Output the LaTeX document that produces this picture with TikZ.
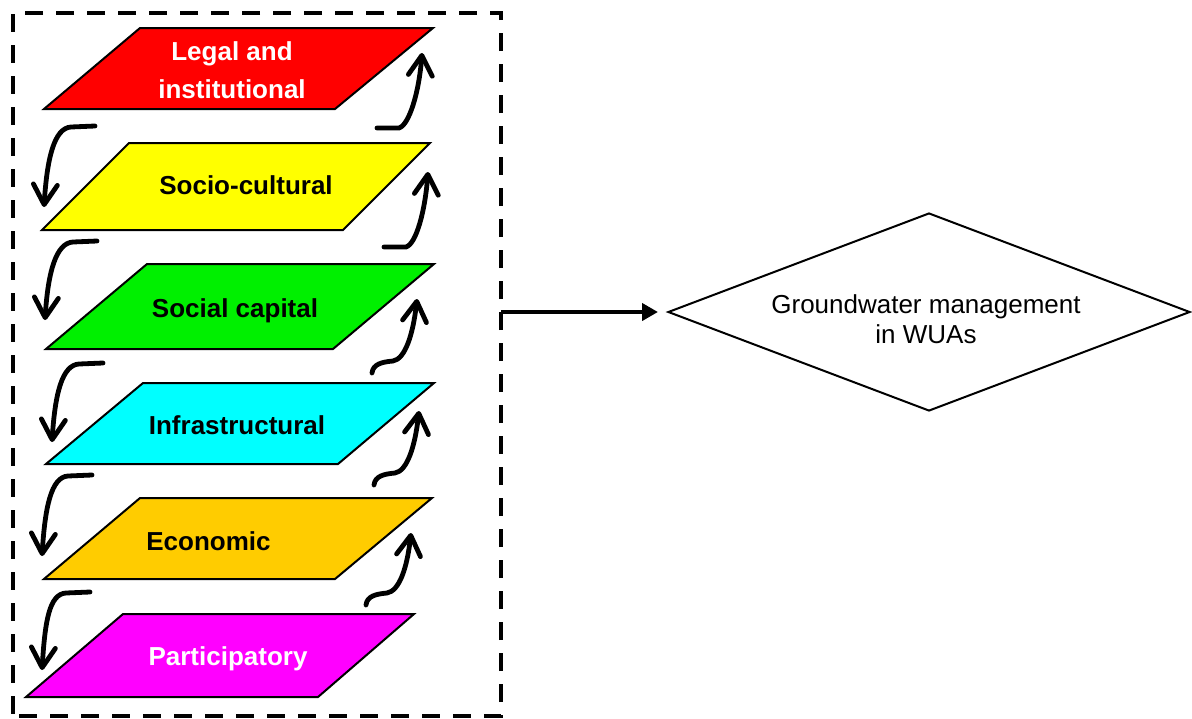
\documentclass[tikz,border=0pt]{standalone}
\usepackage{fontspec}
\setmainfont{Liberation Sans}
\usetikzlibrary{arrows.meta,shapes.geometric,calc}

\definecolor{layerred}{HTML}{FF0000}
\definecolor{layeryellow}{HTML}{FFFF00}
\definecolor{layergreen}{HTML}{00F000}
\definecolor{layercyan}{HTML}{00FFFF}
\definecolor{layerorange}{HTML}{FFCC00}
\definecolor{layermagenta}{HTML}{FF00FF}

\begin{document}
\begin{tikzpicture}[x=0.5pt,y=-0.5pt,
  layer/.style={draw=black, line width=1pt, line join=miter},
  lbl/.style={font=\bfseries\fontsize{13}{19}\selectfont, inner sep=0pt, align=center},
  curl/.style={line width=2.4pt, line cap=round,
    -{Straight Barb[length=10pt,width=12pt,round]}},
]
\useasboundingbox (0,0) rectangle (1192,718);

% dashed frame around the stack of dimensions
\node[draw, line width=2.2pt, dash pattern=on 9pt off 6.5pt, dash phase=-3pt,
  minimum width=244pt, minimum height=351.5pt, inner sep=0pt, outer sep=0pt]
  (frame) at (257,364.5) {};

% stacked layers
\draw[layer, fill=layerred]     (140,28)  -- (433,28)  -- (335,109) -- (44,109) -- cycle;
\draw[layer, fill=layeryellow]  (129,143) -- (430,143) -- (343,230) -- (42,230) -- cycle;
\draw[layer, fill=layergreen]   (147,264) -- (434,264) -- (333,349) -- (46,349) -- cycle;
\draw[layer, fill=layercyan]    (143,383) -- (434,383) -- (338,464) -- (46,464) -- cycle;
\draw[layer, fill=layerorange]  (140,498) -- (432,498) -- (335,579) -- (44,579) -- cycle;
\draw[layer, fill=layermagenta] (123,614) -- (414,614) -- (318,697) -- (26,697) -- cycle;

\node[lbl, text=white] (legal) at (232,70) {Legal and\\institutional};
\node[lbl, anchor=base] (socio) at (246,194) {Socio-cultural};
\node[lbl, anchor=base] (social) at (235,317) {Social capital};
\node[lbl, anchor=base] (infra) at (237,434) {Infrastructural};
\node[lbl, anchor=base] (econ) at (208.5,550) {Economic};
\node[lbl, anchor=base, text=white] (partic) at (228,665) {Participatory};

% downward arrows on the left
\coordinate (l1s) at (95,126);  \coordinate (l1e) at (44,207);
\coordinate (l2s) at (97,241);  \coordinate (l2e) at (45,320);
\coordinate (l3s) at (103,363); \coordinate (l3e) at (52,442);
\coordinate (l4s) at (92,475);  \coordinate (l4e) at (42,556);
\coordinate (l5s) at (90,592);  \coordinate (l5e) at (42,670);
\foreach \i in {1,...,5}{
  \draw[curl] (l\i s) -- ++(-24,1) .. controls +(-17,1) and +(3,-48) .. (l\i e);
}

% upward arrows on the right
\coordinate (r1s) at (377,128); \coordinate (r1e) at (422,53);
\coordinate (r2s) at (384,247); \coordinate (r2e) at (428,172);
\coordinate (r3s) at (372,373); \coordinate (r3e) at (417,299);
\coordinate (r4s) at (374,485); \coordinate (r4e) at (419,411);
\coordinate (r5s) at (366,605); \coordinate (r5e) at (411,533);
\foreach \i in {1,2}{
  \draw[curl] (r\i s) -- ++(22,0) .. controls +(10,-3) and +(-3,40) .. (r\i e);
}
\foreach \i in {3,4,5}{
  \draw[curl] (r\i s) .. controls +(1,-9) and +(-11,1) .. ++(21,-12)
    .. controls +(12,-2) and +(-4,36) .. (r\i e);
}

% outcome
\node[draw, line width=1pt, shape=diamond, aspect=2.64,
  minimum width=261pt, minimum height=99pt, inner sep=0pt] (gw) at (929,312) {};
\node[font=\fontsize{13}{15}\selectfont, align=center, inner sep=0pt]
  (gwtext) at (926,319) {Groundwater management\\in WUAs};

\draw[line width=2pt, shorten >=4.5pt, -{Triangle[length=8pt,width=8.5pt]}]
  (frame.east |- gw.west) -- (gw.west);
\end{tikzpicture}
\end{document}
